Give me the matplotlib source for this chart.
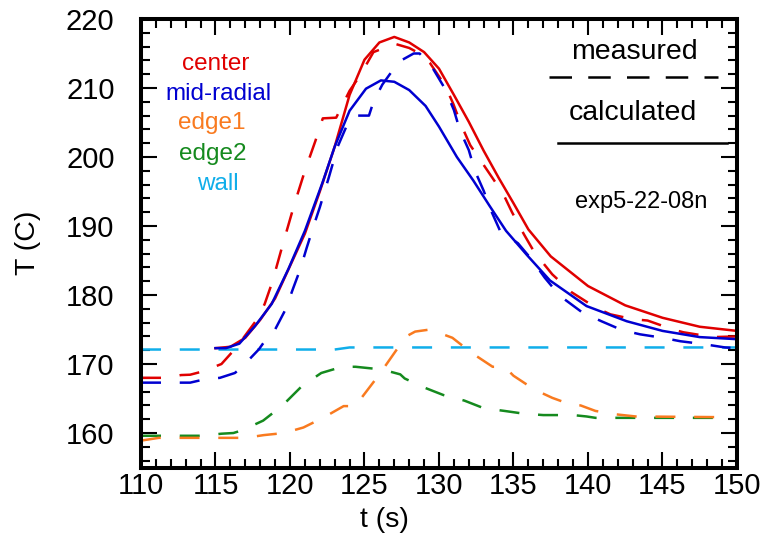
import matplotlib.pyplot as plt
from matplotlib.ticker import MultipleLocator

plt.rcParams['font.family'] = ['Liberation Sans', 'DejaVu Sans']

# measured thermocouple traces
t_center_meas = [110, 111.5, 112.7, 113.3, 114.1, 115.4, 116.4, 117.8, 118.3, 118.8, 119.5, 120.3,
                 121.0, 121.7, 122.2, 123.1, 124.0, 124.7, 125.6, 127.05, 128.0, 128.7, 129.4,
                 130.4, 130.96, 131.5, 132.1, 133.2, 134.3, 134.9, 135.7, 136.4, 137.6, 138.9,
                 140.5, 141.5, 143.0, 144.0, 145.7, 146.4, 148.4, 150]
T_center_meas = [168.0, 168.0, 168.4, 168.45, 168.9, 170.0, 172.4, 176.5, 178.7, 181.8, 187.2, 193.2,
                 198.0, 202.3, 205.6, 205.7, 209.6, 211.8, 215.2, 216.4, 215.8, 215.0, 213.6,
                 210.4, 207.7, 204.6, 201.7, 198.2, 194.7, 192.0, 188.8, 186.2, 183.0, 180.4,
                 178.2, 177.2, 176.5, 176.3, 175.0, 174.6, 173.9, 174.0]

t_mid_meas = [110, 113.3, 114.1, 115.3, 116.3, 116.75, 117.9, 118.3, 119.0, 119.7, 120.2, 120.7,
              121.1, 121.6, 122.0, 122.6, 123.2, 123.8, 124.3, 125.3, 125.6, 126.2, 127.3, 128.3,
              128.7, 129.6, 130.4, 131.0, 131.4, 132.0, 132.4, 133.0, 133.5, 134.1, 135.3, 136.2,
              137.1, 138.1, 139.6, 140.9, 142.3, 143.5, 145.0, 146.2, 147.7, 149.2, 150]
T_mid_meas = [167.3, 167.3, 167.7, 168.0, 168.7, 169.5, 172.1, 173.3, 175.0, 177.9, 180.9, 183.8,
              186.7, 190.1, 192.7, 197.0, 201.5, 204.5, 206.0, 206.0, 208.0, 210.5, 213.8, 215.0,
              215.0, 212.8, 209.9, 206.8, 203.9, 201.0, 198.05, 195.1, 192.2, 189.3, 187.5, 185.2,
              182.5, 179.9, 177.5, 176.2, 174.9, 174.3, 173.8, 173.3, 172.9, 172.4, 172.3]

t_edge1 = [110, 111.2, 117.0, 118.25, 119.6, 120.9, 122.3, 123.6, 124.4, 124.8, 126.0, 127.1,
           127.8, 128.4, 129.4, 130.9, 132.2, 133.6, 134.4, 135.0, 136.4, 137.6, 139.0, 139.5,
           140.5, 141.9, 143.2, 148.8]
T_edge1 = [158.9, 159.3, 159.3, 159.7, 160.0, 160.8, 162.3, 163.9, 163.9, 165.1, 168.5, 171.9,
           174.0, 174.7, 175.0, 173.8, 171.6, 169.6, 169.6, 168.3, 166.3, 165.1, 164.0, 164.0,
           163.2, 162.7, 162.4, 162.3]

t_edge2 = [110, 114.1, 115.4, 116.2, 116.8, 118.2, 119.5, 120.8, 122.1, 123.5, 124.4, 126.2,
           127.4, 127.7, 129.0, 130.3, 131.7, 133.0, 134.4, 135.7, 137.0, 139.0, 139.9, 140.5,
           148.6, 149.5]
T_edge2 = [159.6, 159.6, 159.9, 160.0, 160.4, 161.8, 164.0, 166.8, 168.7, 169.6, 169.6, 169.2,
           168.5, 167.9, 166.6, 165.5, 164.7, 163.6, 163.2, 162.8, 162.6, 162.6, 162.4, 162.2,
           162.2, 161.8]

t_wall = [110, 123.0, 124.0, 150]
T_wall = [172.1, 172.1, 172.4, 172.4]

# model results
t_center_calc = [115, 116, 117, 118, 119, 120, 121, 122, 123, 124, 125, 126, 127, 128, 129, 130,
                 131, 132, 133, 134, 135, 136, 137.5, 140, 142.5, 145, 147.5, 150]
T_center_calc = [172.3, 172.5, 173.8, 176.4, 179.5, 184.2, 188.9, 195.0, 201.5, 209.0, 214.1,
                 216.6, 217.4, 216.6, 215.2, 212.8, 209.0, 205.1, 200.9, 197.0, 193.3, 189.5,
                 185.6, 181.3, 178.5, 176.7, 175.4, 174.8]

t_mid_calc = [115, 115.7, 116.6, 117.65, 118.77, 119.9, 121.0, 122.2, 123.0, 124.0, 125.1, 126.1,
              127.0, 128.0, 129.1, 130.0, 131.2, 132.3, 133.4, 134.5, 135.9, 137.45, 139.9, 142.6,
              145.0, 147.5, 150]
T_mid_calc = [172.3, 172.3, 172.95, 175.5, 178.7, 183.8, 189.3, 196.4, 201.5, 206.7, 209.9, 211.1,
              210.9, 209.7, 207.4, 204.4, 200.0, 196.6, 192.9, 189.3, 185.8, 182.1, 178.4, 176.2,
              174.8, 173.9, 173.6]

red = '#e00000'
blue = '#0000d0'
orange = '#f97a1f'
green = '#158a1e'
cyan = '#10aeea'
dash = (0, (8, 7.5))

fig = plt.figure(figsize=(7.65, 5.38), dpi=100)
ax = fig.add_axes([0.1843, 0.131, 0.7791, 0.8337])

ax.plot(t_wall, T_wall, color=cyan, lw=1.8, ls=dash)
ax.plot(t_edge2, T_edge2, color=green, lw=1.8, ls=dash)
ax.plot(t_edge1, T_edge1, color=orange, lw=1.8, ls=dash)
ax.plot(t_center_meas, T_center_meas, color=red, lw=1.8, ls=dash)
ax.plot(t_mid_meas, T_mid_meas, color=blue, lw=1.8, ls=dash)
ax.plot(t_center_calc, T_center_calc, color=red, lw=1.8)
ax.plot(t_mid_calc, T_mid_calc, color=blue, lw=1.8)

ax.set_xlim(110, 150)
ax.set_ylim(155, 220)
ax.xaxis.set_major_locator(MultipleLocator(5))
ax.xaxis.set_minor_locator(MultipleLocator(1))
ax.yaxis.set_major_locator(MultipleLocator(10))
ax.yaxis.set_minor_locator(MultipleLocator(2))
ax.tick_params(which='both', direction='in', top=True, right=True, width=1.5, labelsize=21)
ax.tick_params(which='major', length=11.5)
ax.tick_params(which='minor', length=6.5)
ax.tick_params(axis='x', pad=3)
ax.tick_params(axis='y', pad=19)
for s in ax.spines.values():
    s.set_linewidth(2.9)

# series names
ax.text(115.03, 212.6, 'center', color=red, fontsize=17.5, ha='center', va='baseline')
ax.text(115.19, 208.33, 'mid-radial', color=blue, fontsize=17.5, ha='center', va='baseline')
ax.text(114.74, 204.0, 'edge1', color=orange, fontsize=17.5, ha='center', va='baseline')
ax.text(114.83, 199.5, 'edge2', color=green, fontsize=17.5, ha='center', va='baseline')
ax.text(115.17, 195.25, 'wall', color=cyan, fontsize=17.5, ha='center', va='baseline')

# line style key
ax.text(143.09, 214.14, 'measured', fontsize=20.5, ha='center', va='baseline')
ax.plot([137.4, 148.7], [211.6, 211.6], color='black', lw=1.8, ls=(0, (9, 6.5)))
ax.text(143.02, 205.4, 'calculated', fontsize=20.5, ha='center', va='baseline')
ax.plot([138.0, 149.3], [202.1, 202.1], color='black', lw=1.8)
ax.text(143.6, 192.6, 'exp5-22-08n', fontsize=17, ha='center', va='baseline')

fig.text(0.503, 0.0335, 't (s)', fontsize=20.5, ha='center', va='center')
fig.text(0.036, 0.549, 'T (C)', fontsize=20.5, ha='center', va='center', rotation=90)

fig.savefig('out.png', dpi=100)
